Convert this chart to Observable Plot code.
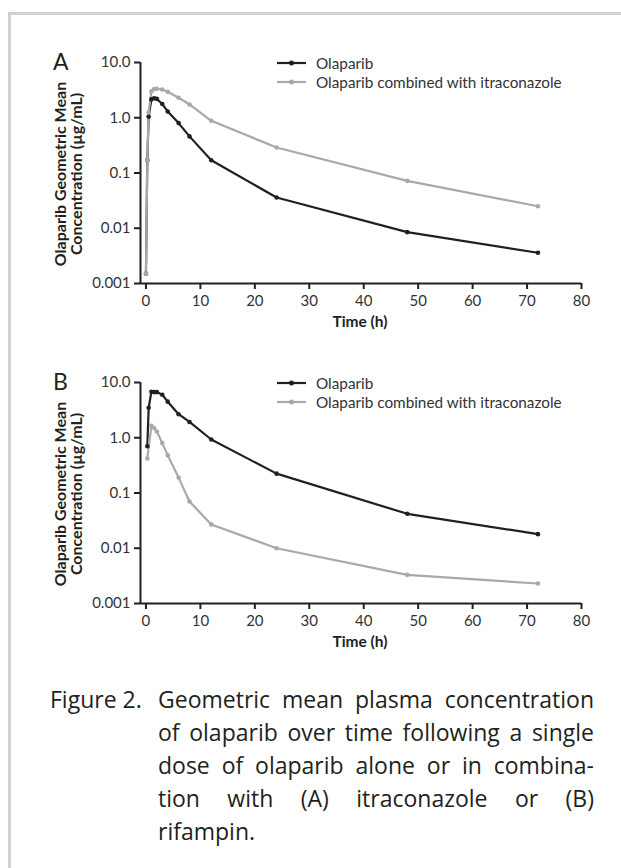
<!DOCTYPE html>
<html>
<head>
<meta charset="utf-8">
<script src="https://cdn.jsdelivr.net/npm/d3@7"></script>
<script src="https://cdn.jsdelivr.net/npm/@observablehq/plot@0.6"></script>
<style>
  html, body { margin: 0; padding: 0; background: #fff; }
  #wrap { position: relative; width: 621px; height: 868px; overflow: hidden; font-family: Lato, "Open Sans", sans-serif; color: #231f20; }
  .frame { position: absolute; left: 8px; top: 12px; width: 640px; height: 900px; border-top: 3px solid #d1d1d1; border-left: 3px solid #d1d1d1; box-sizing: border-box; }
  .plot { position: absolute; left: 0; }
  .letter { position: absolute; font-size: 23px; line-height: 1; }
  .ylab { position: absolute; transform: rotate(-90deg); transform-origin: center center; font-weight: bold; font-size: 16px; line-height: 16px; text-align: center; width: 240px; }
  .xlab { position: absolute; font-weight: bold; font-size: 15.5px; width: 200px; text-align: center; }
  .legend { position: absolute; left: 276px; font-size: 15.3px; color: #333; }
  .legend .row { height: 19px; display: flex; align-items: center; }
  .legend svg { margin-right: 9px; }
  .caption { position: absolute; left: 0; top: 683px; width: 621px; font-family: "Open Sans", sans-serif; font-size: 23px; line-height: 33px; color: #231f20; }
  .caption .fig { position: absolute; left: 50px; top: 0; }
  .caption .body { position: absolute; left: 158px; width: 436px; }
  .caption .body div { text-align: justify; text-align-last: justify; white-space: nowrap; }
  .caption .body div.last { text-align-last: left; }
</style>
</head>
<body>
<div id="wrap">
  <div class="frame"></div>
</div>
<script>
// ---- data ----
const timesA = [0, 0.25, 0.5, 1, 1.5, 2, 3, 4, 6, 8, 12, 24, 48, 72];
const olaparibA = [0.0015, 0.17, 1.05, 2.15, 2.25, 2.2, 1.77, 1.3, 0.8, 0.46, 0.17, 0.036, 0.0085, 0.0036];
const itraconazoleA = [0.0015, 0.17, 1.25, 3.0, 3.3, 3.35, 3.25, 2.95, 2.3, 1.74, 0.88, 0.29, 0.072, 0.025];

const timesBolaparib = [0.25, 0.5, 1, 1.5, 2, 3, 4, 6, 8, 12, 24, 48, 72];
const olaparibB = [0.70, 3.5, 6.8, 6.7, 6.7, 6.0, 4.5, 2.67, 1.93, 0.93, 0.224, 0.042, 0.018];
const timesBrifampin = [0.25, 1, 1.5, 2, 3, 4, 6, 8, 12, 24, 48, 72];
const rifampinB = [0.42, 1.65, 1.5, 1.3, 0.8, 0.48, 0.19, 0.07, 0.027, 0.010, 0.0033, 0.0023];

const seriesNames = ["Olaparib", "Olaparib combined with itraconazole"];
const seriesColors = ["#231f20", "#a7a9ac"];
const xTicks = [0, 10, 20, 30, 40, 50, 60, 70, 80];
const yTicks = [10, 1, 0.1, 0.01, 0.001];
const yTickLabels = ["10.0", "1.0", "0.1", "0.01", "0.001"];
const xLabel = "Time (h)";
const yLabelLines = ["Olaparib Geometric Mean", "Concentration (\u00b5g/mL)"];
const panelLetters = ["A", "B"];
const captionLead = "Figure 2.";
const captionLines = [
  "Geometric mean plasma concentration",
  "of olaparib over time following a single",
  "dose of olaparib alone or in combina-",
  "tion with (A) itraconazole or (B)",
  "rifampin."
];

// ---- build ----
const wrap = document.getElementById("wrap");
const toRows = (times, vals, s) => times.map((t, i) => ({t, v: vals[i], s}));
const panels = [
  [toRows(timesA, olaparibA, 0), toRows(timesA, itraconazoleA, 1)],
  [toRows(timesBolaparib, olaparibB, 0), toRows(timesBrifampin, rifampinB, 1)]
];
const panelTops = [0, 320];
const fmtY = d => yTickLabels[yTicks.findIndex(v => Math.abs(Math.log10(v) - Math.log10(d)) < 1e-6)];

panels.forEach((series, p) => {
  const data = series.flat();
  const chart = Plot.plot({
    width: 621, height: 340,
    marginTop: 62, marginBottom: 57, marginLeft: 140, marginRight: 40,
    style: {fontFamily: "Lato, sans-serif", fontSize: "15px", color: "#333", background: "transparent", overflow: "visible"},
    x: {domain: [-1, 80]},
    y: {type: "log", domain: [0.001, 10]},
    marks: [
      Plot.line(data, {x: "t", y: "v", z: "s", stroke: d => seriesColors[d.s], curve: "linear", strokeWidth: 2.2, strokeLinejoin: "round"}),
      Plot.dot(data, {x: "t", y: "v", fill: d => seriesColors[d.s], r: 2.3, stroke: null}),
      Plot.ruleX([-1], {y1: 0.001, y2: 10, stroke: "#231f20", strokeWidth: 2}),
      Plot.ruleY([0.001], {x1: -1, x2: 80, stroke: "#231f20", strokeWidth: 2}),
      Plot.axisY(yTicks, {tickFormat: fmtY, tickSize: 6, tickPadding: 4, stroke: "#231f20", strokeWidth: 2, label: null, fill: "#333", fontSize: 15}),
      Plot.axisX(xTicks, {tickSize: 6, tickPadding: 6, stroke: "#231f20", strokeWidth: 2, label: null, fill: "#333", fontSize: 15})
    ]
  });
  chart.classList.add("plot");
  chart.style.top = panelTops[p] + "px";
  wrap.appendChild(chart);

  const top = panelTops[p];
  const letter = document.createElement("div");
  letter.className = "letter";
  letter.textContent = panelLetters[p];
  letter.style.left = "53px";
  letter.style.top = (top + 50) + "px";
  wrap.appendChild(letter);

  const ylab = document.createElement("div");
  ylab.className = "ylab";
  ylab.innerHTML = yLabelLines.map(l => `<div>${l}</div>`).join("");
  ylab.style.left = (68 - 120) + "px";
  ylab.style.top = (top + 174 - 16) + "px";
  wrap.appendChild(ylab);

  const xlab = document.createElement("div");
  xlab.className = "xlab";
  xlab.textContent = xLabel;
  xlab.style.left = (360 - 100) + "px";
  xlab.style.top = (top + 312) + "px";
  wrap.appendChild(xlab);

  const leg = document.createElement("div");
  leg.className = "legend";
  leg.style.top = (top + 53) + "px";
  leg.innerHTML = seriesNames.map((n, i) =>
    `<div class="row"><svg width="31" height="8"><line x1="1" x2="30" y1="4" y2="4" stroke="${seriesColors[i]}" stroke-width="2.2"/><circle cx="15.5" cy="4" r="2.5" fill="${seriesColors[i]}"/></svg><span>${n}</span></div>`
  ).join("");
  wrap.appendChild(leg);
});

const cap = document.createElement("div");
cap.className = "caption";
cap.innerHTML = `<div class="fig">${captionLead}</div><div class="body">` +
  captionLines.map((l, i) => `<div class="${i === captionLines.length - 1 ? "last" : ""}">${l}</div>`).join("") + `</div>`;
wrap.appendChild(cap);
</script>
</body>
</html>
